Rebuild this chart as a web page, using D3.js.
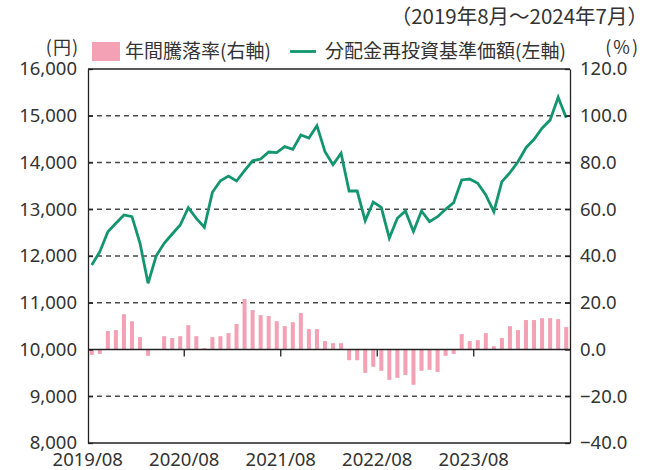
<!DOCTYPE html>
<html>
<head>
<meta charset="utf-8">
<script src="https://cdn.jsdelivr.net/npm/d3@7"></script>
<style>
  body { margin: 0; background: #fff; }
  text { font-family: "Noto Sans CJK JP", "Noto Sans", sans-serif; fill: #333; }
  .num { font-family: "Noto Sans", sans-serif; }
</style>
</head>
<body>
<svg class="chart" width="648" height="470"></svg>
<script>
// monthly, 2019/08 - 2024/07
var startMonth = new Date(2019, 7, 1);
var months = d3.timeMonth.range(startMonth, new Date(2024, 7, 1));

// 分配金再投資基準価額 (円)
var nav = [
  11807, 12093, 12520, 12699, 12877, 12841, 12271, 11416, 12000, 12271,
  12471, 12663, 13033, 12806, 12614, 13362, 13611, 13711, 13604, 13825,
  14036, 14075, 14225, 14211, 14340, 14282, 14588, 14524, 14788, 14232,
  13953, 14197, 13390, 13390, 12756, 13155, 13041, 12385, 12806, 12963,
  12524, 12963, 12734, 12841, 12999, 13140, 13626, 13647, 13555, 13305,
  12948, 13590, 13782, 14017, 14317, 14496, 14732, 14909, 15394, 14959
];

// 年間騰落率 (%)
var ret = [
  -2.3, -1.9, 7.9, 8.3, 15.1, 12.1, 5.3, -2.7, 0.0, 5.7,
  4.9, 5.7, 10.4, 5.7, 0.6, 5.3, 5.7, 7.0, 10.9, 21.6,
  16.9, 14.7, 14.3, 12.1, 10.0, 11.7, 15.6, 8.7, 8.7, 3.6,
  2.7, 2.7, -4.6, -4.6, -10.0, -7.4, -9.1, -13.0, -12.1, -10.9,
  -15.1, -9.1, -8.7, -9.6, -2.7, -1.9, 6.6, 3.6, 4.0, 7.0,
  1.4, 4.9, 10.0, 8.3, 12.6, 12.6, 13.4, 13.4, 13.0, 9.6
];

var leftTicks = [8000, 9000, 10000, 11000, 12000, 13000, 14000, 15000, 16000];
var rightTicks = [-40, -20, 0, 20, 40, 60, 80, 100, 120];
var xTickLabels = ["2019/08", "2020/08", "2021/08", "2022/08", "2023/08"];

var plot = {left: 88, right: 570, top: 69, bottom: 443};

var svg = d3.select(".chart");

var x = d3.scaleBand()
    .domain(months)
    .range([plot.left, plot.right])
    .paddingInner(0.5)
    .paddingOuter(0.22);

var yL = d3.scaleLinear().domain([8000, 16000]).range([plot.bottom, plot.top]);
var yR = d3.scaleLinear().domain([-40, 120]).range([plot.bottom, plot.top]);

var fmtMonth = d3.timeFormat("%Y/%m");
function boundary(d) { return x(d) - x.step() * x.paddingInner() / 2; }

// dashed grid
svg.append("g")
  .selectAll("line")
  .data(leftTicks.filter(function(d) { return d != 8000 && d != 10000 && d != 16000; }))
  .enter().append("line")
    .attr("x1", plot.left).attr("x2", plot.right)
    .attr("y1", function(d) { return yL(d); })
    .attr("y2", function(d) { return yL(d); })
    .attr("stroke", "#4a4a4a")
    .attr("stroke-width", 1.3)
    .attr("stroke-dasharray", "5,4");

// bars
svg.append("g")
  .selectAll("rect")
  .data(ret)
  .enter().append("rect")
    .attr("x", function(d, i) { return x(months[i]); })
    .attr("width", x.bandwidth())
    .attr("y", function(d) { return yR(Math.max(0, d)); })
    .attr("height", function(d) { return Math.abs(yR(d) - yR(0)); })
    .attr("fill", "#f4a1b6");

// zero line + month ticks
svg.append("line")
    .attr("x1", plot.left).attr("x2", plot.right)
    .attr("y1", yR(0)).attr("y2", yR(0))
    .attr("stroke", "#222").attr("stroke-width", 1.3);

var tickMonths = months.filter(function(d) { return xTickLabels.indexOf(fmtMonth(d)) >= 0; });

svg.append("g")
  .selectAll("line")
  .data(tickMonths.slice(1))
  .enter().append("line")
    .attr("x1", boundary).attr("x2", boundary)
    .attr("y1", yR(0)).attr("y2", yR(0) + 7)
    .attr("stroke", "#222").attr("stroke-width", 1.3);

// line
var line = d3.line()
    .x(function(d, i) { return x(months[i]) + x.bandwidth() / 2; })
    .y(function(d) { return yL(d); });

svg.append("path")
    .datum(nav)
    .attr("fill", "none")
    .attr("stroke", "#13966f")
    .attr("stroke-width", 2.8)
    .attr("stroke-linejoin", "miter")
    .attr("d", line);

// frame
svg.append("line")
    .attr("x1", plot.left).attr("x2", plot.right)
    .attr("y1", plot.top).attr("y2", plot.top)
    .attr("stroke", "#222").attr("stroke-width", 1.3);
svg.append("line")
    .attr("x1", plot.left).attr("x2", plot.right)
    .attr("y1", plot.bottom).attr("y2", plot.bottom)
    .attr("stroke", "#222").attr("stroke-width", 1.3);

// axes
var yAxisL = d3.axisLeft(yL)
    .tickValues(leftTicks)
    .tickSize(-5)
    .tickSizeOuter(0)
    .tickPadding(11)
    .tickFormat(d3.format(","));

var yAxisR = d3.axisRight(yR)
    .tickValues(rightTicks)
    .tickSize(-5)
    .tickSizeOuter(0)
    .tickPadding(10)
    .tickFormat(d3.format(".1f"));

svg.append("g")
    .attr("class", "y axis")
    .attr("transform", "translate(" + plot.left + ",0)")
    .call(yAxisL);

svg.append("g")
    .attr("class", "y axis")
    .attr("transform", "translate(" + plot.right + ",0)")
    .call(yAxisR);

svg.selectAll(".y.axis path, .y.axis line")
    .attr("stroke", "#222").attr("stroke-width", 1.3);
svg.selectAll(".y.axis text")
    .attr("class", "num")
    .attr("font-size", 18.5)
    .attr("font-family", null)
    .attr("fill", "#333");

// x labels
svg.append("g")
  .selectAll("text")
  .data(tickMonths)
  .enter().append("text")
    .attr("class", "num")
    .attr("x", boundary)
    .attr("y", 466)
    .attr("text-anchor", "middle")
    .attr("font-size", 18.5)
    .text(fmtMonth);

// titles / legend
svg.append("text")
    .attr("x", 648).attr("y", 24)
    .attr("text-anchor", "end")
    .attr("font-size", 20.5)
    .text("（2019年8月～2024年7月）");

svg.append("text")
    .attr("x", 79).attr("y", 54)
    .attr("text-anchor", "end")
    .attr("font-size", 18)
    .attr("letter-spacing", 1)
    .text("(円)");

svg.append("text")
    .attr("x", 640).attr("y", 54)
    .attr("text-anchor", "end")
    .attr("font-size", 18)
    .attr("letter-spacing", 2)
    .text("(%)");

svg.append("rect")
    .attr("x", 92).attr("y", 42)
    .attr("width", 28).attr("height", 19)
    .attr("fill", "#f4a1b6");

svg.append("text")
    .attr("x", 125).attr("y", 58)
    .attr("font-size", 19)
    .text("年間騰落率(右軸)");

svg.append("line")
    .attr("x1", 290).attr("x2", 316)
    .attr("y1", 51.5).attr("y2", 51.5)
    .attr("stroke", "#13966f").attr("stroke-width", 2.8);

svg.append("text")
    .attr("x", 325).attr("y", 58)
    .attr("font-size", 19)
    .text("分配金再投資基準価額(左軸)");
</script>
</body>
</html>
